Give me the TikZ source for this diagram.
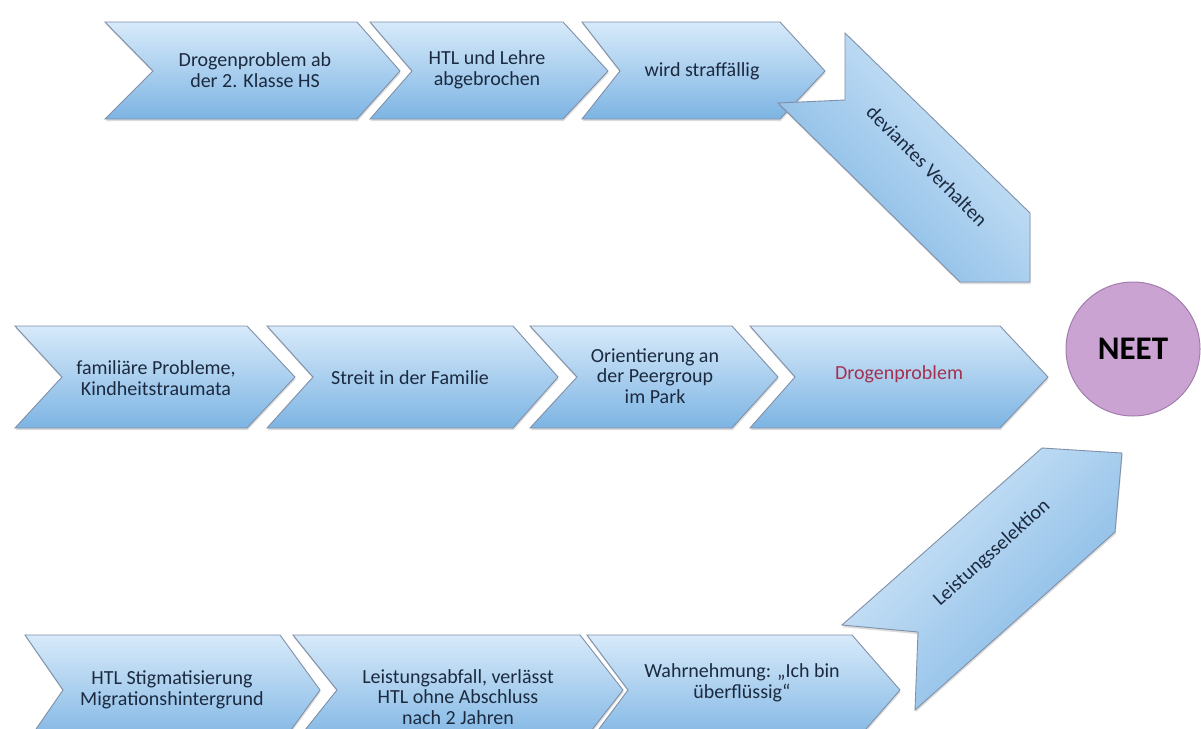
\documentclass[tikz,border=0pt]{standalone}
\usepackage{fontspec}
\setmainfont{Carlito}
\usetikzlibrary{shadows}
\definecolor{chevtop}{HTML}{D7EAFA}
\definecolor{chevbot}{HTML}{7DB4E3}
\definecolor{chevline}{HTML}{7F90A8}
\definecolor{txt}{HTML}{1C2A40}
\definecolor{redtxt}{HTML}{A3314F}
\definecolor{neetfill}{HTML}{CBA3D3}
\definecolor{neetline}{HTML}{A27DAF}
% name, x tail, x notch, x right corner, x tip, y top, y middle, y bottom
\newcommand\mychevron[8]{%
  \path[chev] (#2,#6) -- (#4,#6) -- (#5,#7) -- (#4,#8) -- (#2,#8) -- (#3,#7) -- cycle;
  \coordinate (#1) at ({(#3+#4)/2},#7);
}
\begin{document}
\begin{tikzpicture}[x=1pt,y=-1pt,
  chev/.style={draw=chevline, line width=0.9pt, line join=miter,
    top color=chevtop, bottom color=chevbot,
    drop shadow={shadow xshift=0.6pt, shadow yshift=-2.2pt, opacity=0.28}},
  lbl/.style={text=txt, font=\fontsize{20}{20.8}\selectfont, align=center, inner sep=0pt},
  neetstyle/.style={circle, draw=neetline, line width=1pt, fill=neetfill,
    minimum size=134pt, inner sep=0pt, font=\fontsize{33}{36}\selectfont\bfseries, text=black}]
\useasboundingbox (0,0) rectangle (1201,728);
\fill[white] (0,0) rectangle (1201,728);

% top row
\mychevron{c1}{105}{153}{357}{400}{22}{71}{119}
\mychevron{c2}{370}{412}{563}{608}{22}{71}{119}
\mychevron{c3}{582}{620}{780}{825}{22}{71}{119}
% diagonal down
\path[chev, shading angle=-45] (845,33) -- (1030,213) -- (1030,282) -- (960,282) -- (778,103) -- (845,100) -- cycle;

% middle row
\mychevron{c4}{15}{62}{247}{295}{326}{377}{428}
\mychevron{c5}{267}{313}{513}{558}{326}{377}{428}
\mychevron{c6}{530}{577}{732}{778}{326}{377}{428}
\mychevron{c7}{750}{795}{1000}{1048}{326}{377}{428}

% bottom row
\mychevron{c8}{25}{63}{280}{320}{635}{690}{745}
\mychevron{c9}{293}{337}{580}{623}{635}{690}{745}
\mychevron{c10}{587}{628}{852}{900}{635}{690}{745}
% diagonal up
\path[chev, shading angle=45] (842,625) -- (1042,448) -- (1122,453) -- (1115,532) -- (915,710) -- (918,632) -- cycle;

% labels
\node[lbl] (t1) at (255,70) {Drogenproblem ab\\der 2. Klasse HS};
\node[lbl] (t2) at (487,70) {HTL und Lehre\\abgebrochen};
\node[lbl] (t3) at (702,71) {wird straffällig};
\node[lbl, rotate=-45] (dv) at (927,166) {deviantes Verhalten};

\node[lbl] (m1) at (156,378) {familiäre Probleme,\\Kindheitstraumata};
\node[lbl] (m2) at (410,378) {Streit in der Familie};
\node[lbl] (m3) at (655,376) {Orientierung an\\der Peergroup\\im Park};
\node[lbl, text=redtxt] (m4) at (899,374) {Drogenproblem};

\node[neetstyle] (neet) at (1133,349) {NEET};

\node[lbl] (b1) at (172,690) {HTL Stigmatisierung\\Migrationshintergrund};
\node[lbl] (b2) at (458,697) {Leistungsabfall, verlässt\\HTL ohne Abschluss\\nach 2 Jahren};
\node[lbl] (b3) at (742,683) {Wahrnehmung: „Ich bin\\überflüssig“};
\node[lbl, rotate=42] (ls) at (992,553) {Leistungsselektion};
\end{tikzpicture}
\end{document}
